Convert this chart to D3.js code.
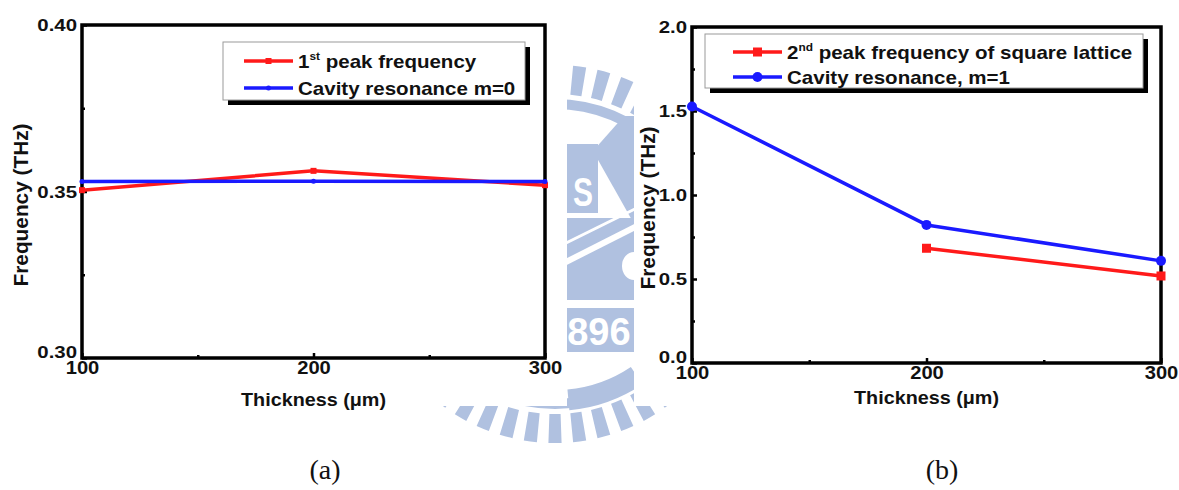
<!DOCTYPE html>
<html>
<head>
<meta charset="utf-8">
<script src="https://cdn.jsdelivr.net/npm/d3@7"></script>
<style>
  body { margin: 0; background: #fff; }
  svg { display: block; }
  .chart text { font-family: "Liberation Sans", Arial, sans-serif; font-weight: bold; fill: #111; }
  .caption { font-family: "Liberation Serif", "Times New Roman", serif; font-size: 28px; fill: #111; }
</style>
</head>
<body>
<svg id="fig" width="1179" height="490"></svg>
<script>
// ---- data ----
const thicknessA = [100, 200, 300];
const peak1st = [0.3504, 0.3562, 0.3519];
const cavityM0 = [0.3530, 0.3531, 0.3530];

const thicknessPeak2 = [200, 300];
const peak2nd = [0.683, 0.518];
const thicknessB = [100, 200, 300];
const cavityM1 = [1.527, 0.822, 0.608];

const xTicks = [100, 200, 300];
const xMinor = [150, 250];
const yTicksA = [0.30, 0.35, 0.40];
const yMinorA = [0.325, 0.375];
const yTicksB = [0.0, 0.5, 1.0, 1.5, 2.0];
const yMinorB = [0.25, 0.75, 1.25, 1.75];

const svg = d3.select("#fig");
const WM = "#b0c1e0";

// stretch text horizontally by factor k (wide bold lettering)
function widen(sel, k) {
  sel.each(function () {
    const w = this.getComputedTextLength();
    if (w > 0) d3.select(this).attr("textLength", w * k).attr("lengthAdjust", "spacingAndGlyphs");
  });
}

// ---- background emblem, partly hidden behind the two panels ----
const wm = svg.append("g").attr("class", "emblem");
const cx = 555, cy = 254;
const rayArc = d3.arc().innerRadius(160).outerRadius(189);
for (let a = 0; a < 360; a += 7.5) {
  const s = (a - 2) * Math.PI / 180, e = (a + 2) * Math.PI / 180;
  wm.append("path").attr("transform", `translate(${cx},${cy})`)
    .attr("d", rayArc({ startAngle: s, endAngle: e })).attr("fill", WM);
}
wm.append("path").attr("transform", `translate(${cx},${cy})`)
  .attr("d", d3.arc().innerRadius(145).outerRadius(155)({ startAngle: 0, endAngle: 2 * Math.PI }))
  .attr("fill", WM);
// thicker segment of the inner ring near the bottom
wm.append("path").attr("transform", `translate(${cx},${cy})`)
  .attr("d", d3.arc().innerRadius(136).outerRadius(157)({ startAngle: 2.55, endAngle: 3.05 }))
  .attr("fill", WM);
// "S" block
wm.append("rect").attr("x", 540).attr("y", 144).attr("width", 58).attr("height", 69).attr("fill", WM);
wm.append("text").attr("x", 583).attr("y", 206).attr("text-anchor", "middle")
  .attr("font-family", "Liberation Sans, Arial, sans-serif").attr("font-weight", "bold")
  .attr("font-size", 40).attr("fill", "#fff").attr("transform", "translate(583,0) scale(0.75,1) translate(-583,0)")
  .text("S");
// chevron
wm.append("polygon").attr("points", "593,151 624,116 650,116 650,222 633,222").attr("fill", WM);
// lower block with diagonal cuts
wm.append("rect").attr("x", 540).attr("y", 218).attr("width", 110).attr("height", 82).attr("fill", WM);
wm.append("line").attr("x1", 560).attr("y1", 246).attr("x2", 645).attr("y2", 204)
  .attr("stroke", "#fff").attr("stroke-width", 3);
wm.append("line").attr("x1", 560).attr("y1", 265).attr("x2", 645).attr("y2", 222)
  .attr("stroke", "#fff").attr("stroke-width", 6);
wm.append("ellipse").attr("cx", 634).attr("cy", 266).attr("rx", 12).attr("ry", 14).attr("fill", "#fff");
// year block
wm.append("rect").attr("x", 540).attr("y", 308).attr("width", 110).attr("height", 44).attr("fill", WM);
wm.append("text").attr("x", 546).attr("y", 345)
  .attr("font-family", "Liberation Sans, Arial, sans-serif").attr("font-weight", "bold")
  .attr("font-size", 38).attr("fill", "#fff").text("1896");

// white panels that carry the two charts
svg.append("rect").attr("x", 0).attr("y", 0).attr("width", 567).attr("height", 406).attr("fill", "#fff");
svg.append("rect").attr("x", 634).attr("y", 0).attr("width", 545).attr("height", 406).attr("fill", "#fff");

// ---- chart builder ----
function drawPanel(cfg) {
  const g = svg.append("g").attr("class", "chart");
  const x = d3.scaleLinear().domain([100, 300]).range([cfg.x0, cfg.x1]);
  const y = d3.scaleLinear().domain(cfg.yDomain).range([cfg.y1, cfg.y0]);

  // major / minor ticks pointing inward
  const yAx = g.append("g").attr("transform", `translate(${cfg.x0},0)`)
    .call(d3.axisLeft(y).tickValues(cfg.yTicks).tickFormat(d3.format(cfg.yFmt)).tickSize(-5).tickPadding(5));
  g.append("g").attr("transform", `translate(${cfg.x0},0)`)
    .call(d3.axisLeft(y).tickValues(cfg.yMinor).tickFormat("").tickSize(-3));
  const xAx = g.append("g").attr("transform", `translate(0,${cfg.y1})`)
    .call(d3.axisBottom(x).tickValues(xTicks).tickFormat(d3.format("d")).tickSize(-5).tickPadding(5));
  g.append("g").attr("transform", `translate(0,${cfg.y1})`)
    .call(d3.axisBottom(x).tickValues(xMinor).tickFormat("").tickSize(-3));
  g.selectAll(".domain").remove();
  g.selectAll(".tick line").attr("stroke", "#000").attr("stroke-width", 2.5);
  yAx.selectAll(".tick text").attr("font-size", 17).attr("fill", "#111")
    .attr("dy", (d, i) => i === 0 ? "-0.02em" : "0.34em");
  xAx.selectAll(".tick text").attr("font-size", 18).attr("fill", "#111").attr("dy", "0.62em");
  widen(yAx.selectAll(".tick text"), 1.2);
  widen(xAx.selectAll(".tick text"), 1.12);

  // frame
  g.append("rect").attr("x", cfg.x0).attr("y", cfg.y0)
    .attr("width", cfg.x1 - cfg.x0).attr("height", cfg.y1 - cfg.y0)
    .attr("fill", "none").attr("stroke", "#000").attr("stroke-width", 3.5);

  // series
  const line = d3.line().x(d => x(d[0])).y(d => y(d[1]));
  cfg.series.forEach(s => {
    const pts = s.xs.map((v, i) => [v, s.ys[i]]);
    g.append("path").attr("d", line(pts)).attr("fill", "none")
      .attr("stroke", s.color).attr("stroke-width", 3.5).attr("stroke-linejoin", "round");
    pts.forEach(p => drawMarker(g, s, x(p[0]), y(p[1])));
  });

  // axis titles
  const xt = g.append("text").attr("x", (cfg.x0 + cfg.x1) / 2).attr("y", cfg.xTitleY)
    .attr("text-anchor", "middle").attr("font-size", 19).text("Thickness (\u03bcm)");
  widen(xt, 1.04);
  const yt = g.append("text").attr("transform", `translate(${cfg.yTitleX},${cfg.yTitleY}) rotate(-90)`)
    .attr("text-anchor", "middle").attr("dominant-baseline", "central")
    .attr("font-size", 20).text("Frequency (THz)");
  widen(yt, 1.04);

  // legend with drop shadow
  const L = cfg.legend;
  g.append("rect").attr("x", L.x + 5).attr("y", L.y + 5).attr("width", L.w).attr("height", L.h).attr("fill", "#000");
  g.append("rect").attr("x", L.x).attr("y", L.y).attr("width", L.w).attr("height", L.h)
    .attr("fill", "#fff").attr("stroke", "#9a9a9a").attr("stroke-width", 1);
  cfg.series.forEach((s, i) => {
    const ly = L.rowY[i];
    g.append("line").attr("x1", L.lx0).attr("x2", L.lx1).attr("y1", ly).attr("y2", ly)
      .attr("stroke", s.color).attr("stroke-width", 3.5);
    drawMarker(g, s, (L.lx0 + L.lx1) / 2, ly);
    const t = g.append("text").attr("x", L.tx).attr("y", ly).attr("dy", "0.36em").attr("font-size", 19);
    s.label.forEach(part => {
      if (part.sup) t.append("tspan").attr("dy", "-0.75em").attr("font-size", 11).text(part.sup);
      else t.append("tspan").attr("dy", part.down ? "0.46em" : null).text(part.text);
    });
    widen(t, 1.08);
  });
}

function drawMarker(g, s, px, py) {
  if (s.marker === "square") {
    g.append("rect").attr("x", px - s.size / 2).attr("y", py - s.size / 2)
      .attr("width", s.size).attr("height", s.size).attr("fill", s.color);
  } else {
    g.append("circle").attr("cx", px).attr("cy", py).attr("r", s.size / 2).attr("fill", s.color);
  }
}

// (a) first peak vs. m = 0 cavity resonance
drawPanel({
  x0: 82, x1: 545, y0: 25, y1: 358,
  yDomain: [0.30, 0.40], yTicks: yTicksA, yMinor: yMinorA, yFmt: ".2f",
  xTitleY: 406, yTitleX: 21, yTitleY: 205,
  legend: { x: 223, y: 42, w: 302, h: 58, rowY: [61, 88], lx0: 244, lx1: 293, tx: 298 },
  series: [
    { xs: thicknessA, ys: peak1st, color: "#ff1a1a", marker: "square", size: 6,
      label: [{ text: "1" }, { sup: "st" }, { text: " peak frequency", down: true }] },
    { xs: thicknessA, ys: cavityM0, color: "#1a1aff", marker: "circle", size: 5,
      label: [{ text: "Cavity resonance m=0" }] }
  ]
});

// (b) second peak vs. m = 1 cavity resonance
drawPanel({
  x0: 692, x1: 1161, y0: 27, y1: 363,
  yDomain: [0, 2], yTicks: yTicksB, yMinor: yMinorB, yFmt: ".1f",
  xTitleY: 404, yTitleX: 648, yTitleY: 208,
  legend: { x: 705, y: 34, w: 438, h: 54, rowY: [52, 77], lx0: 733, lx1: 782, tx: 787 },
  series: [
    { xs: thicknessPeak2, ys: peak2nd, color: "#ff1a1a", marker: "square", size: 9,
      label: [{ text: "2" }, { sup: "nd" }, { text: " peak frequency of square lattice", down: true }] },
    { xs: thicknessB, ys: cavityM1, color: "#1a1aff", marker: "circle", size: 10,
      label: [{ text: "Cavity resonance, m=1" }] }
  ]
});

// panel captions
svg.append("text").attr("class", "caption").attr("x", 325).attr("y", 479).attr("text-anchor", "middle").text("(a)");
svg.append("text").attr("class", "caption").attr("x", 942).attr("y", 479).attr("text-anchor", "middle").text("(b)");
</script>
</body>
</html>
